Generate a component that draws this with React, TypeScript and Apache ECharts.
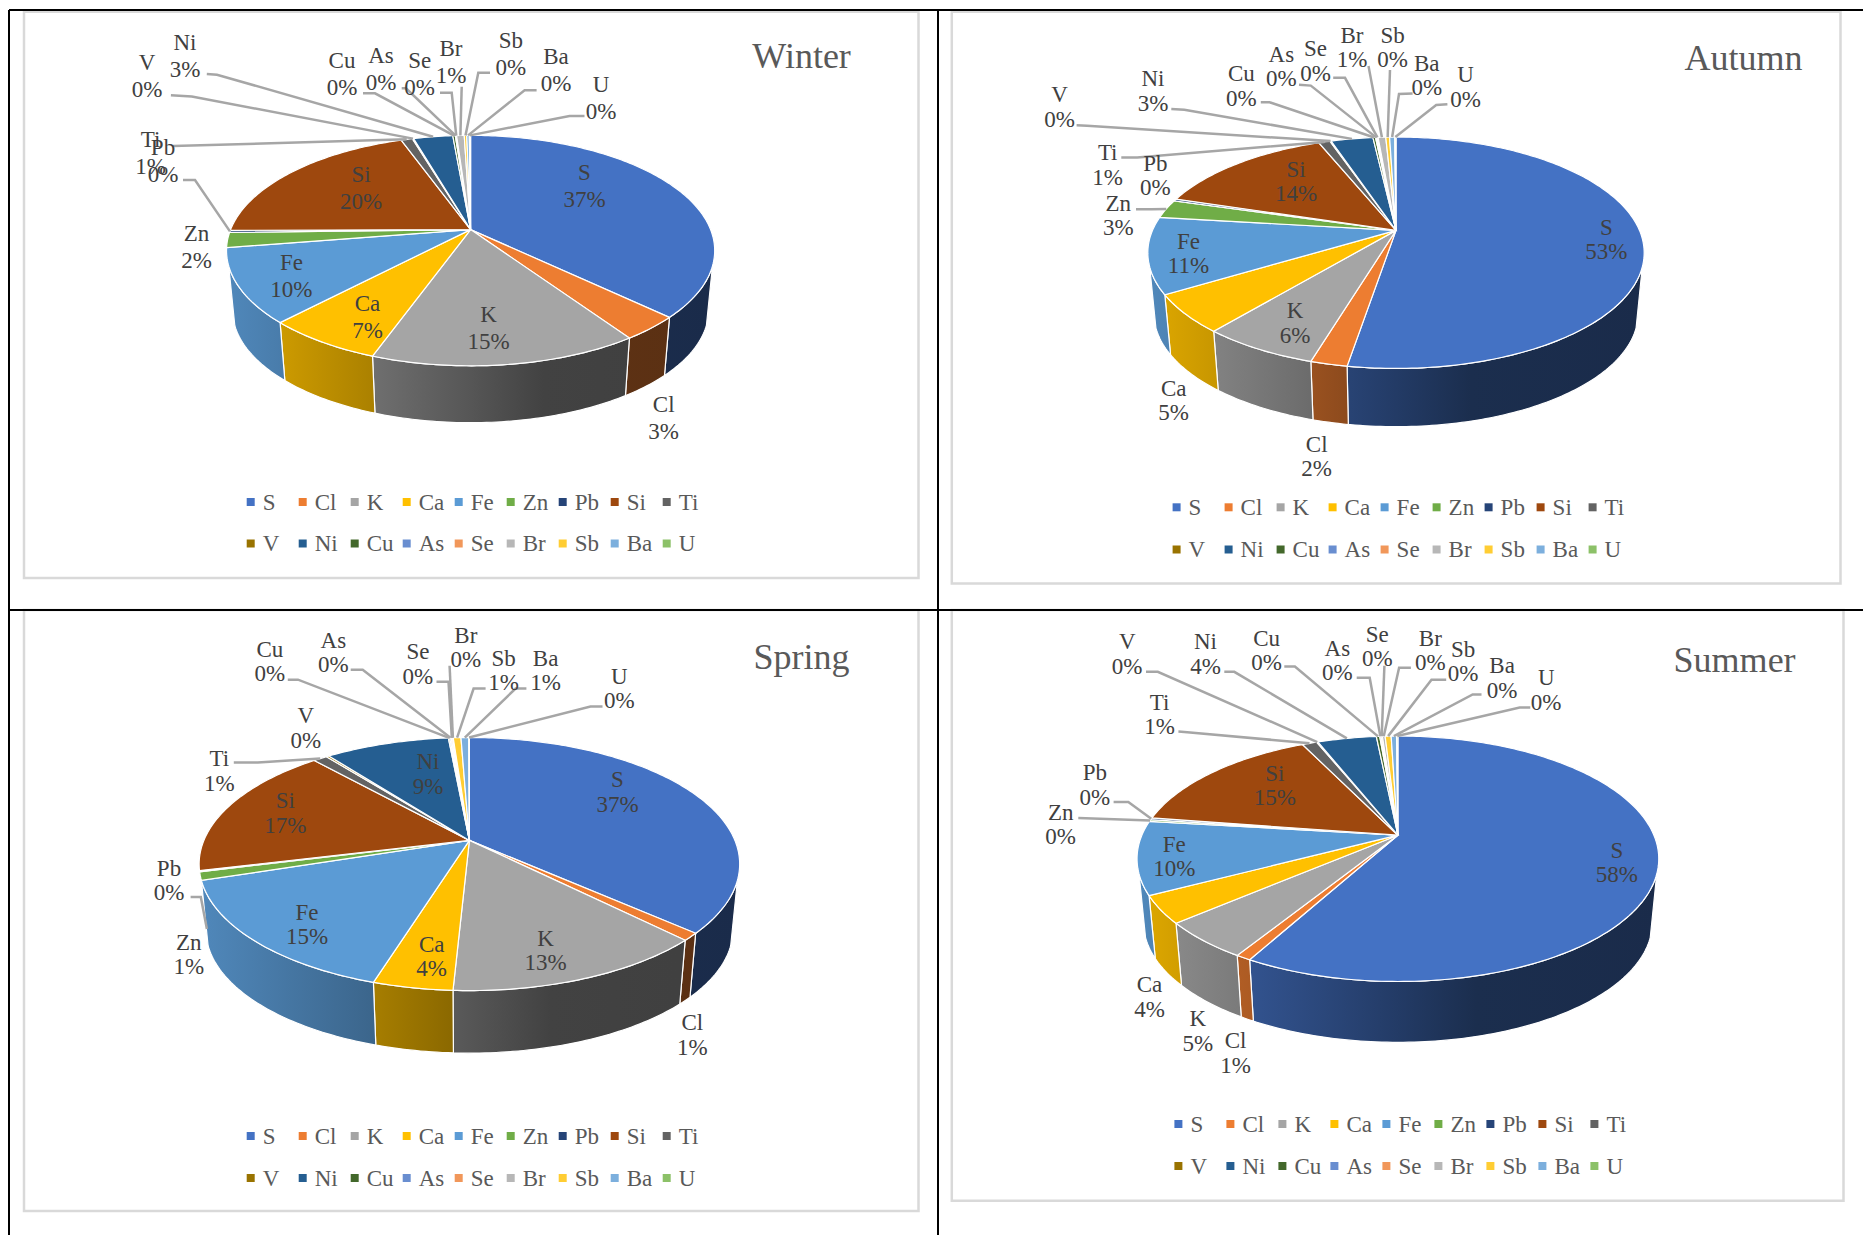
import React, { useEffect, useRef } from "react";
import * as echarts from "echarts";

// Element shares (%) per season, in slice order clockwise from twelve o'clock.
const elements = ["S", "Cl", "K", "Ca", "Fe", "Zn", "Pb", "Si", "Ti", "V", "Ni", "Cu", "As", "Se", "Br", "Sb", "Ba", "U"];
const winterValues = [37.1, 3.4, 15, 6.6, 10.4, 2.1, 0.3, 19.6, 0.9, 0.1, 3.1, 0.2, 0.05, 0.05, 0.6, 0.2, 0.2, 0.1];
const autumnValues = [52.6, 2.0, 6.4, 5.3, 10.6, 2.6, 0.3, 14.1, 0.9, 0.1, 3.3, 0.2, 0.1, 0.1, 0.6, 0.3, 0.4, 0.1];
const springValues = [36.6, 0.95, 13.25, 4.0, 15.2, 1.05, 0.15, 17.2, 1.0, 0.2, 8.9, 0.1, 0.1, 0.1, 0.05, 0.55, 0.55, 0.05];
const summerValues = [58.0, 0.8, 4.9, 3.6, 9.6, 0.25, 0.25, 15.4, 1.1, 0.1, 4.4, 0.25, 0.1, 0.1, 0.2, 0.45, 0.4, 0.1];

const palette = ["#4472C4", "#ED7D31", "#A5A5A5", "#FFC000", "#5B9BD5", "#70AD47", "#264478", "#9E480E", "#636363", "#997300", "#255E91", "#43682B", "#698ED0", "#F1975A", "#B7B7B7", "#FFCD33", "#7CAFDD", "#8CC168"];

const FONT = '"Liberation Serif", "Times New Roman", serif';
const LABEL_SIZE = 23;

// Label placement: [x, y] centre, then optional leader start, elbow and a fixed end point.
type Row = number[];
const winterLabels: Row[] = [
  [584.5, 186.8], [663.7, 418], [488.6, 328.8], [367.5, 317], [291.4, 276], [196.6, 247],
  [163, 161.5, 183, 180, 195, 180], [361, 188.7], [150.5, 153.7, 173, 146, 173, 146],
  [147, 76, 170.9, 95.3, 191.8, 96.5], [185, 56.4, 206.8, 74, 217, 74.7], [342, 74.7, 363, 93.3, 375, 93.3],
  [381, 69, 401.7, 88.3, 406, 88.3], [419.7, 74.7, 440, 92.7, 451.7, 92.7], [451, 62, 461.7, 86.7, 461.7, 86.7],
  [510.8, 54.5, 490, 72.7, 478.3, 72.7], [556, 70, 536.6, 90.3, 524.6, 90.3], [601, 98, 584.5, 116, 569.5, 116],
];
const autumnLabels: Row[] = [
  [1606.3, 240], [1316.7, 457], [1295, 323.7], [1173.7, 400.8], [1188.4, 254],
  [1118.3, 216, 1136, 209.3, 1151.9, 209.3], [1155.4, 175.9], [1296, 182],
  [1107.7, 165.4, 1121.3, 157.6, 1137.2, 157.6], [1059.5, 107.4, 1076.6, 125.3, 1087, 125.7],
  [1153, 91.4, 1171.3, 109, 1184.3, 109.7], [1241.4, 86.4, 1260.8, 102.3, 1269.6, 102.3],
  [1281.4, 67, 1299, 84.8, 1310.8, 85.6], [1315.5, 61.5, 1333.2, 77.8, 1345, 77.8],
  [1352, 47.9, 1368.5, 66, 1368.5, 66], [1392.6, 47.9, 1390, 70, 1390, 70],
  [1426.8, 75.9, 1412.6, 93.4, 1399, 94], [1465.6, 87.5, 1447.4, 104.3, 1436.2, 105],
];
const springLabels: Row[] = [
  [617.5, 792.5], [692.4, 1035.3], [545.6, 950.8], [431.7, 956.8], [307, 924.9], [188.8, 954.8],
  [169, 881, 190.6, 897, 200.8, 897, 206.9, 929], [285.4, 813.3], [219.4, 771.4, 233.8, 762.6, 257.8, 762.6],
  [305.8, 728.4], [428, 774.6], [269.8, 662.2, 287.8, 679.7, 298, 679.7], [333.3, 653, 350.7, 669.8, 362.7, 669.8],
  [417.9, 664.6, 436.5, 681.7, 448.5, 681.7], [465.8, 647.9, 449.6, 665.8, 449.6, 665.8],
  [503.6, 671, 485.6, 688.5, 473.6, 688.5], [545.6, 671, 526.4, 688.5, 515.6, 688.5],
  [619.3, 688.9, 602.5, 706.5, 590.5, 706.5],
];
const summerLabels: Row[] = [
  [1616.9, 863], [1235.5, 1053.6], [1197.8, 1031.7], [1149.5, 997.4], [1174.3, 857.1],
  [1060.7, 825.2, 1078.3, 818, 1078.3, 818], [1094.8, 785.4, 1113.6, 802.1, 1128.3, 802.1], [1274.9, 786.2],
  [1159.5, 714.8, 1178.4, 731.6, 1190.1, 732.4], [1127.2, 654.6, 1146, 671.8, 1157.8, 671.8],
  [1205.5, 654.6, 1224.3, 671.8, 1234.3, 671.8], [1266.7, 651, 1284.3, 666.6, 1294.9, 666.6],
  [1337.3, 661, 1356.7, 677.8, 1369.7, 677.8], [1377.3, 647, 1384.4, 665.8, 1384.4, 665.8],
  [1430.3, 651, 1410.9, 667.8, 1399.1, 667.8], [1463.2, 661.8, 1446.2, 679.7, 1431.5, 679.7],
  [1502.1, 678.6, 1481.5, 694.5, 1472.7, 694.5], [1546.2, 690.5, 1530.3, 707.6, 1519.7, 707.6],
];

// Perspective disc of each pie and the frame around it.
const seasons = [
  { name: "Winter", values: winterValues, labels: winterLabels, lineHeight: 27, cx: 470.6, cy: 229.6, a: 111.4, b: 240, p: 0.182, D: 60.3,
    titleX: 801.6, titleY: 55.6, legendX: 246.7, rowY: [502, 543.5], frame: [24, 11.7, 918.5, 578] },
  { name: "Autumn", values: autumnValues, labels: autumnLabels, lineHeight: 24.5, cx: 1396, cy: 230.4, a: 111.4, b: 243.5, p: 0.193, D: 61.7,
    titleX: 1743.4, titleY: 58.4, legendX: 1172.6, rowY: [507.3, 549.5], frame: [951.8, 11.7, 1840.5, 583.6] },
  { name: "Spring", values: springValues, labels: springLabels, lineHeight: 24.5, cx: 469.4, cy: 840.4, a: 122.1, b: 265.5, p: 0.187, D: 66.3,
    titleX: 801.6, titleY: 656.8, legendX: 246.7, rowY: [1136, 1178], frame: [24, 610, 918.5, 1211] },
  { name: "Summer", values: summerValues, labels: summerLabels, lineHeight: 24.5, cx: 1397.9, cy: 835.2, a: 118.2, b: 256, p: 0.192, D: 64.5,
    titleX: 1734.6, titleY: 660, legendX: 1174.4, rowY: [1124, 1166], frame: [951.8, 610, 1843.5, 1200.7] },
];

const BASE_SCALE = 0.975;
const WALL_FROM = 108;
const WALL_TO = 252;
// Side wall brightness across the pie's width, from left edge to right edge.
const wallShade: [number, number][] = [[0, 0.88], [0.3, 0.67], [0.5, 0.52], [0.65, 0.4], [1, 0.38]];

type Season = (typeof seasons)[number];

function rimPoint(g: Season, deg: number): number[] {
  const r = (deg * Math.PI) / 180;
  const u = Math.sin(r);
  const v = -Math.cos(r);
  const d = 1 - g.p * v;
  return [g.cx + (g.b * u) / d, g.cy + (g.a * v) / d];
}

function basePoint(g: Season, pt: number[]): number[] {
  return [g.cx + (pt[0] - g.cx) * BASE_SCALE, g.cy + (pt[1] - g.cy) * BASE_SCALE + g.D];
}

function arcAngles(from: number, to: number): number[] {
  const out: number[] = [];
  for (let d = from; d < to; d += 1) out.push(d);
  out.push(to);
  return out;
}

function shaded(hex: string, k: number): string {
  const n = parseInt(hex.slice(1), 16);
  const c = [(n >> 16) & 255, (n >> 8) & 255, n & 255].map((x) => Math.round(x * k));
  return `rgb(${c[0]},${c[1]},${c[2]})`;
}

function wallFill(g: Season, color: string) {
  const half = g.b / Math.sqrt(1 - g.p * g.p);
  return new echarts.graphic.LinearGradient(
    g.cx - half, 0, g.cx + half, 0,
    wallShade.map(([offset, k]) => ({ offset, color: shaded(color, k) })),
    true,
  );
}

function sliceRenderer(g: Season, index: number) {
  return (_params: any, api: any) => {
    const startDeg = api.value(0) * 3.6;
    const endDeg = api.value(1) * 3.6;
    const percent = Math.round(api.value(2));
    const color = palette[index];
    const children: any[] = [];

    const wallA = Math.max(startDeg, WALL_FROM);
    const wallB = Math.min(endDeg, WALL_TO);
    if (wallB > wallA) {
      const topEdge = arcAngles(wallA, wallB).map((d) => rimPoint(g, d));
      const lowEdge = topEdge.map((pt) => basePoint(g, pt)).reverse();
      children.push({
        type: "polygon",
        z2: 1,
        shape: { points: topEdge.concat(lowEdge) },
        style: { fill: wallFill(g, color), stroke: "#fff", lineWidth: 1.2 },
      });
    }

    const topFace = [[g.cx, g.cy]].concat(arcAngles(startDeg, endDeg).map((d) => rimPoint(g, d)));
    children.push({
      type: "polygon",
      z2: 10,
      shape: { points: topFace },
      style: { fill: color, stroke: "#fff", lineWidth: 1.2 },
    });

    const row = g.labels[index];
    if (row.length >= 6) {
      const end = row.length >= 8 ? [row[6], row[7]] : rimPoint(g, (startDeg + endDeg) / 2);
      children.push({
        type: "polyline",
        z2: 20,
        shape: { points: [[row[2], row[3]], [row[4], row[5]], end] },
        style: { fill: "none", stroke: "#A6A6A6", lineWidth: 2.5 },
      });
    }
    children.push({
      type: "text",
      z2: 30,
      style: {
        x: row[0],
        y: row[1] - 0.5,
        text: `${elements[index]}\n${percent}%`,
        fill: "#404040",
        fontFamily: FONT,
        fontSize: LABEL_SIZE,
        lineHeight: g.lineHeight,
        align: "center",
        verticalAlign: "middle",
        textAlign: "center",
        textVerticalAlign: "middle",
      },
    });
    return { type: "group", children };
  };
}

function buildSeries() {
  const series: any[] = [];
  seasons.forEach((g) => {
    let running = 0;
    g.values.forEach((value, index) => {
      const start = running;
      running += value;
      series.push({
        type: "custom",
        name: elements[index],
        coordinateSystem: "none",
        silent: true,
        clip: false,
        z: 2,
        itemStyle: { color: palette[index] },
        data: [[start, running, value]],
        renderItem: sliceRenderer(g, index),
      });
    });
  });
  return series;
}

const LEGEND_PITCH = 52;
const LEGEND_ROW_HEIGHT = 26;

function buildLegends() {
  const legends: any[] = [];
  seasons.forEach((g) => {
    [elements.slice(0, 9), elements.slice(9)].forEach((names, rowIndex) => {
      legends.push({
        left: g.legendX,
        top: g.rowY[rowIndex] - LEGEND_ROW_HEIGHT / 2,
        orient: "horizontal",
        padding: 0,
        itemGap: 0,
        itemWidth: 8,
        itemHeight: 8,
        icon: "rect",
        selectedMode: false,
        data: names,
        formatter: (name: string) => `{a|${name}}`,
        textStyle: {
          color: "#595959",
          fontFamily: FONT,
          fontSize: LABEL_SIZE,
          rich: {
            a: {
              width: LEGEND_PITCH - 16,
              height: LEGEND_ROW_HEIGHT,
              lineHeight: LEGEND_ROW_HEIGHT,
              padding: [0, 0, 0, 3],
              color: "#595959",
              fontFamily: FONT,
              fontSize: LABEL_SIZE,
            },
          },
        },
      });
    });
  });
  return legends;
}

function buildGraphics() {
  const frames = seasons.map((g) => ({
    type: "rect",
    z: 0,
    silent: true,
    shape: { x: g.frame[0], y: g.frame[1], width: g.frame[2] - g.frame[0], height: g.frame[3] - g.frame[1] },
    style: { fill: "#fff", stroke: "#D9D9D9", lineWidth: 2.5 },
  }));
  const rule = (x1: number, y1: number, x2: number, y2: number) => ({
    type: "line",
    z: 1,
    silent: true,
    shape: { x1, y1, x2, y2 },
    style: { stroke: "#000", lineWidth: 2 },
  });
  return [...frames, rule(9, 10, 1863, 10), rule(9, 610, 1863, 610), rule(9, 10, 9, 1235), rule(938, 10, 938, 1235)];
}

export default function App() {
  const ref = useRef<HTMLDivElement>(null);
  useEffect(() => {
    const chart = echarts.init(ref.current!, undefined, { renderer: "svg" });
    chart.setOption({
      animation: false,
      backgroundColor: "#fff",
      title: seasons.map((g) => ({
        text: g.name,
        left: g.titleX,
        top: g.titleY,
        padding: 0,
        textAlign: "center",
        textVerticalAlign: "middle",
        textStyle: { color: "#595959", fontFamily: FONT, fontSize: 36, fontWeight: "normal" },
      })),
      legend: buildLegends(),
      graphic: buildGraphics(),
      series: buildSeries(),
    });
    return () => chart.dispose();
  }, []);
  return <div ref={ref} style={{ position: "absolute", left: 0, top: 0, width: 1863, height: 1235 }} />;
}
